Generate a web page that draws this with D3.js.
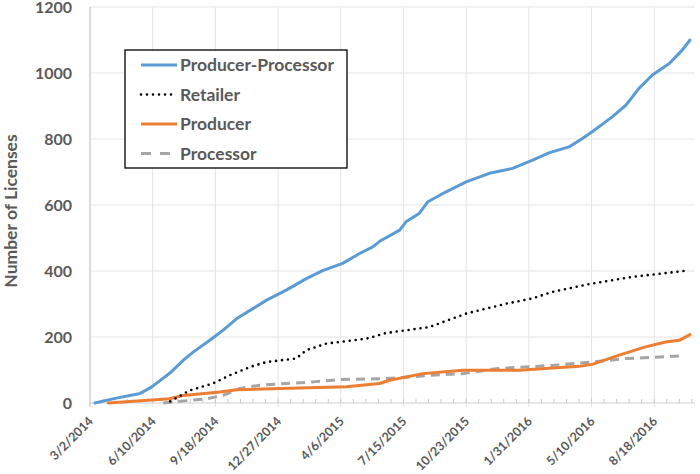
<!DOCTYPE html>
<html lang="en">
<head>
    <meta charset="UTF-8">
    <title>Licenses</title>
    <script src="https://d3js.org/d3.v7.min.js"></script>
    <style>
        body { margin: 0; background: #fff; }
        svg text {
            font-family: Lato, "Open Sans", sans-serif;
            font-weight: bold;
            fill: #595959;
        }
    </style>
</head>

<body>
    <svg width="700" height="474"></svg>

    <script>
        // day offsets are counted from 3/2/2014
        const startDate = new Date(2014, 2, 2);
        const seriesNames = ["Producer-Processor", "Retailer", "Producer", "Processor"];

        const ppDays = [8, 40, 80, 98, 127, 149, 165, 191, 212, 234, 260, 281, 313, 345, 372, 403, 430, 451, 462, 494, 504, 525, 539, 568, 600, 637, 674, 706, 732, 764, 786, 801, 833, 855, 876, 897, 924, 945, 957];
        const ppVals = [0, 14, 29, 48, 90, 130, 155, 190, 220, 256, 286, 311, 342, 377, 402, 423, 453, 473, 490, 524, 549, 574, 610, 640, 670, 696, 711, 736, 758, 776, 802, 822, 867, 903, 954, 994, 1029, 1070, 1100];

        const retDays = [128, 159, 196, 223, 255, 281, 329, 345, 377, 441, 472, 541, 600, 664, 706, 738, 801, 865, 947];
        const retVals = [5, 38, 59, 84, 109, 124, 135, 160, 180, 195, 212, 230, 271, 301, 317, 337, 362, 382, 400];

        const prodDays = [29, 127, 149, 207, 234, 303, 409, 462, 478, 531, 595, 685, 780, 801, 844, 886, 918, 940, 957];
        const prodVals = [0, 13, 23, 33, 40, 44, 49, 59, 69, 89, 99, 99, 111, 117, 145, 170, 185, 190, 207];

        const procDays = [117, 186, 212, 239, 271, 356, 398, 472, 510, 541, 595, 648, 738, 801, 855, 897, 945];
        const procVals = [0, 13, 23, 44, 54, 64, 71, 74, 79, 84, 89, 104, 114, 124, 135, 138, 143];

        const yTicks = [0, 200, 400, 600, 800, 1000, 1200];
        const xTickDays = [0, 100, 200, 300, 400, 500, 600, 700, 800, 900];

        const svg = d3.select("svg");
        const dayMs = 86400000;
        const toDate = d => new Date(startDate.getTime() + d * dayMs);

        const x = d3.scaleTime()
            .domain([startDate, toDate(965)])
            .range([90, 695]);
        const y = d3.scaleLinear()
            .domain([0, 1200])
            .range([403, 7]);

        // gridlines
        const grid = svg.append("g");
        grid.selectAll(".hg").data(yTicks.slice(1)).enter().append("line")
            .attr("x1", 90).attr("x2", 695)
            .attr("y1", d => y(d)).attr("y2", d => y(d))
            .attr("stroke", "#e3e3e3").attr("stroke-width", 1);
        grid.selectAll(".vg").data(xTickDays.slice(1)).enter().append("line")
            .attr("x1", d => x(toDate(d))).attr("x2", d => x(toDate(d)))
            .attr("y1", y(1200)).attr("y2", 407)
            .attr("stroke", "#e3e3e3").attr("stroke-width", 1);

        // minor ticks every 20 days
        svg.append("g").selectAll("line").data(d3.range(20, 965, 20)).enter().append("line")
            .attr("x1", d => x(toDate(d))).attr("x2", d => x(toDate(d)))
            .attr("y1", 399).attr("y2", 403)
            .attr("stroke", "#c8c8c8");

        // axis lines
        svg.append("line").attr("x1", 90).attr("x2", 90).attr("y1", y(1200)).attr("y2", 407)
            .attr("stroke", "#d0d0d0").attr("stroke-width", 1.5);
        svg.append("line").attr("x1", 90).attr("x2", 695).attr("y1", 403).attr("y2", 403)
            .attr("stroke", "#d0d0d0").attr("stroke-width", 1);

        // y tick labels
        svg.append("g").selectAll("text").data(yTicks).enter().append("text")
            .attr("x", 72).attr("y", d => y(d) + 5.5)
            .attr("text-anchor", "end")
            .style("font-size", "16px")
            .text(d => d);

        // x tick labels
        const fmt = d => (d.getMonth() + 1) + "/" + d.getDate() + "/" + d.getFullYear();
        svg.append("g").selectAll("text").data(xTickDays).enter().append("text")
            .attr("transform", d => "translate(" + (x(toDate(d)) + 4) + ",422) rotate(-45)")
            .attr("text-anchor", "end")
            .style("font-size", "12.5px")
            .text(d => fmt(toDate(d)));

        svg.append("text")
            .attr("transform", "translate(17,211) rotate(-90)")
            .attr("text-anchor", "middle")
            .style("font-size", "17.5px")
            .text("Number of Licenses");

        const line = d3.line()
            .x(d => x(toDate(d[0])))
            .y(d => y(d[1]));

        const styles = [
            { color: "#5B9BD5", width: 3, dash: null, cap: "round" },
            { color: "#000000", width: 2.6, dash: "0,6", cap: "round" },
            { color: "#ED7D31", width: 3, dash: null, cap: "round" },
            { color: "#A5A5A5", width: 3, dash: "9,6", cap: "butt" }
        ];
        const series = [
            d3.zip(ppDays, ppVals),
            d3.zip(retDays, retVals),
            d3.zip(prodDays, prodVals),
            d3.zip(procDays, procVals)
        ];

        // draw bottom to top: processor, producer, retailer, producer-processor
        [3, 2, 1, 0].forEach(function (i) {
            svg.append("path")
                .datum(series[i])
                .attr("d", line)
                .attr("fill", "none")
                .attr("stroke", styles[i].color)
                .attr("stroke-width", styles[i].width)
                .attr("stroke-linecap", styles[i].cap)
                .attr("stroke-linejoin", "round")
                .attr("stroke-dasharray", styles[i].dash);
        });

        // legend
        const legend = svg.append("g");
        legend.append("rect")
            .attr("x", 125).attr("y", 50).attr("width", 222).attr("height", 118)
            .attr("fill", "#fff").attr("stroke", "#000").attr("stroke-width", 1.3);
        seriesNames.forEach(function (name, i) {
            const ly = 65 + i * 29.5;
            legend.append("line")
                .attr("x1", 141).attr("x2", 177).attr("y1", ly).attr("y2", ly)
                .attr("stroke", styles[i].color)
                .attr("stroke-width", styles[i].width)
                .attr("stroke-linecap", i === 1 ? "round" : "butt")
                .attr("stroke-dasharray", i === 3 ? "10,9" : styles[i].dash);
            legend.append("text")
                .attr("x", 180).attr("y", ly + 6)
                .style("font-size", "17.5px")
                .text(name);
        });
    </script>
</body>
</html>
